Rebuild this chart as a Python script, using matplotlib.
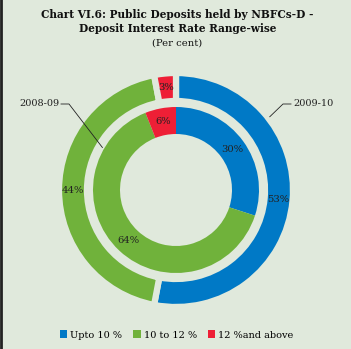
import numpy as np
import matplotlib
matplotlib.use("Agg")
import matplotlib.pyplot as plt
from matplotlib.patches import Patch

categories = ["Upto 10 %", "10 to 12 %", "12 %and above"]
share_2009_10 = [53, 44, 3]   # outer ring
share_2008_09 = [30, 64, 6]   # inner ring
years = ["2009-10", "2008-09"]

colors = ["#0079c6", "#70b23b", "#ee1f36"]
bg = "#e0e9dc"

plt.rcParams["font.family"] = ["DejaVu Serif"]

W, H = 351, 349
fig = plt.figure(figsize=(W / 100, H / 100), dpi=100, facecolor=bg)
ax = fig.add_axes([0, 0, 1, 1])
ax.set_facecolor(bg)

cx, cy = 176, H - 190
r_out, w_out = 117, 28
r_in, w_in = 83, 27

ax.pie(share_2009_10, colors=colors, startangle=90, counterclock=False,
       radius=r_out, center=(cx, cy),
       wedgeprops=dict(width=w_out, edgecolor=bg, linewidth=4.5),
       autopct=lambda p: f"{p:.0f}%", pctdistance=(r_out - w_out / 2) / r_out,
       textprops=dict(fontsize=7.2, color="#222222"))
ax.pie(share_2008_09, colors=colors, startangle=90, counterclock=False,
       radius=r_in, center=(cx, cy),
       wedgeprops=dict(width=w_in, linewidth=0),
       autopct=lambda p: f"{p:.0f}%", pctdistance=(r_in - w_in / 2) / r_in,
       textprops=dict(fontsize=7.2, color="#222222"))

ax.set_xlim(0, W)
ax.set_ylim(0, H)
ax.set_aspect("equal")
ax.axis("off")


def ring_point(r, deg):
    # deg measured clockwise from the top
    a = np.deg2rad(deg)
    return cx + r * np.sin(a), cy + r * np.cos(a)


# leader for outer ring
px, py = ring_point(r_out + 2, 52)
ax.plot([px, 283, 291], [py, H - 104, H - 104], color="#222222", lw=0.6)
ax.text(293, H - 104, years[0], fontsize=7, ha="left", va="center", color="#222222")

# leader for inner ring
px, py = ring_point(r_in + 2, 300)
ax.plot([px, 69, 61], [py, H - 104, H - 104], color="#222222", lw=0.6)
ax.text(59, H - 104, years[1], fontsize=7, ha="right", va="center", color="#222222")

fig.text(0.506, 1 - 15 / H, "Chart VI.6: Public Deposits held by NBFCs-D -",
         ha="center", va="center", fontsize=7.6, fontweight="bold", color="#111111")
fig.text(0.506, 1 - 29 / H, "Deposit Interest Rate Range-wise",
         ha="center", va="center", fontsize=7.6, fontweight="bold", color="#111111")
fig.text(0.506, 1 - 43 / H, "(Per cent)",
         ha="center", va="center", fontsize=7.2, color="#111111")

handles = [Patch(facecolor=c, edgecolor="none") for c in colors]
fig.legend(handles, categories, loc="center", bbox_to_anchor=(0.503, 1 - 335 / H),
           ncol=3, frameon=False, fontsize=7, handlelength=0.8, handleheight=0.8,
           handletextpad=0.3, columnspacing=1.1)

fig.add_artist(plt.Line2D([0.002, 0.002], [0, 1], color="#222222", lw=2,
                          transform=fig.transFigure))

fig.savefig("out.png", dpi=100, facecolor=bg)
